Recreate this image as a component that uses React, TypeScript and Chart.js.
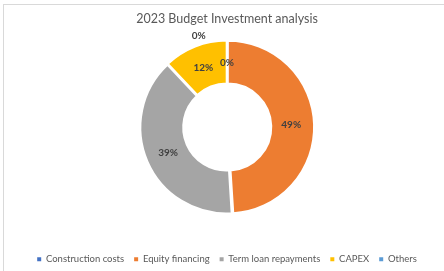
import React, { useEffect, useRef } from "react";
import { Chart, registerables } from "chart.js";

Chart.register(...registerables);

const TITLE = "2023 Budget Investment analysis";
const CATEGORIES = ["Construction costs", "Equity financing", "Term loan repayments", "CAPEX", "Others"];
const VALUES = [0, 49, 39, 12, 0];
const LABELS = ["0%", "49%", "39%", "12%", "0%"];
const COLORS = ["#4472C4", "#ED7D31", "#A5A5A5", "#FFC000", "#5B9BD5"];

const FONT = "Lato, 'Open Sans', sans-serif";

const labelPlugin = {
  id: "sliceLabels",
  afterDatasetsDraw(chart: any) {
    const meta = chart.getDatasetMeta(0);
    const ctx = chart.ctx;
    ctx.save();
    ctx.font = `bold 10px ${FONT}`;
    ctx.fillStyle = "#404040";
    ctx.textAlign = "center";
    ctx.textBaseline = "middle";
    meta.data.forEach((arc: any, i: number) => {
      const p = arc.getProps(["x", "y", "startAngle", "endAngle", "innerRadius", "outerRadius"], true);
      const mid = (p.startAngle + p.endAngle) / 2;
      let r = (p.innerRadius + p.outerRadius) / 2;
      let a = mid;
      if (VALUES[i] === 0 && i > 0) {
        r = p.outerRadius + 10;
        a = mid - 0.3;
      }
      ctx.fillText(LABELS[i], p.x + Math.cos(a) * r, p.y + Math.sin(a) * r);
    });
    ctx.restore();
  },
};

export default function App() {
  const ref = useRef<HTMLCanvasElement>(null);
  useEffect(() => {
    document.body.style.margin = "0";
    const defaultGen = (Chart as any).overrides.doughnut.plugins.legend.labels.generateLabels;
    const chart = new Chart(ref.current!, {
      type: "doughnut",
      data: {
        labels: CATEGORIES,
        datasets: [
          {
            data: VALUES,
            backgroundColor: COLORS,
            borderColor: "#ffffff",
            borderWidth: 2,
            offset: 3,
          },
        ],
      },
      options: {
        responsive: false,
        animation: false,
        cutout: "50%",
        layout: { padding: { left: 10, right: 0, top: 0, bottom: -3 } },
        plugins: {
          title: {
            display: true,
            text: TITLE,
            color: "#595959",
            font: { family: FONT, size: 12.5, weight: "normal" },
            padding: { top: 11, bottom: 13 },
          },
          legend: {
            position: "bottom",
            title: {
              display: true,
              text: " ",
              font: { size: 1 },
              padding: { top: 0, bottom: 28 },
            },
            labels: {
              color: "#595959",
              font: { family: FONT, size: 9.5 },
              boxWidth: 4,
              boxHeight: 4,
              padding: 10,
              generateLabels: (c: any) =>
                defaultGen(c).map((l: any) => ({ ...l, lineWidth: 0, strokeStyle: "rgba(0,0,0,0)", hidden: false })),
            },
          },
          tooltip: { enabled: false },
        },
      },
      plugins: [labelPlugin],
    });
    return () => chart.destroy();
  }, []);
  return (
    <div style={{ position: "relative", width: 444, height: 271, overflow: "hidden", background: "#fff" }}>
      <div
        style={{
          position: "absolute",
          left: 3,
          top: 4,
          width: 480,
          height: 300,
          border: "1px solid #d9d9d9",
        }}
      />
      <canvas ref={ref} width={444} height={271} style={{ position: "absolute", left: 0, top: 0 }} />
    </div>
  );
}
